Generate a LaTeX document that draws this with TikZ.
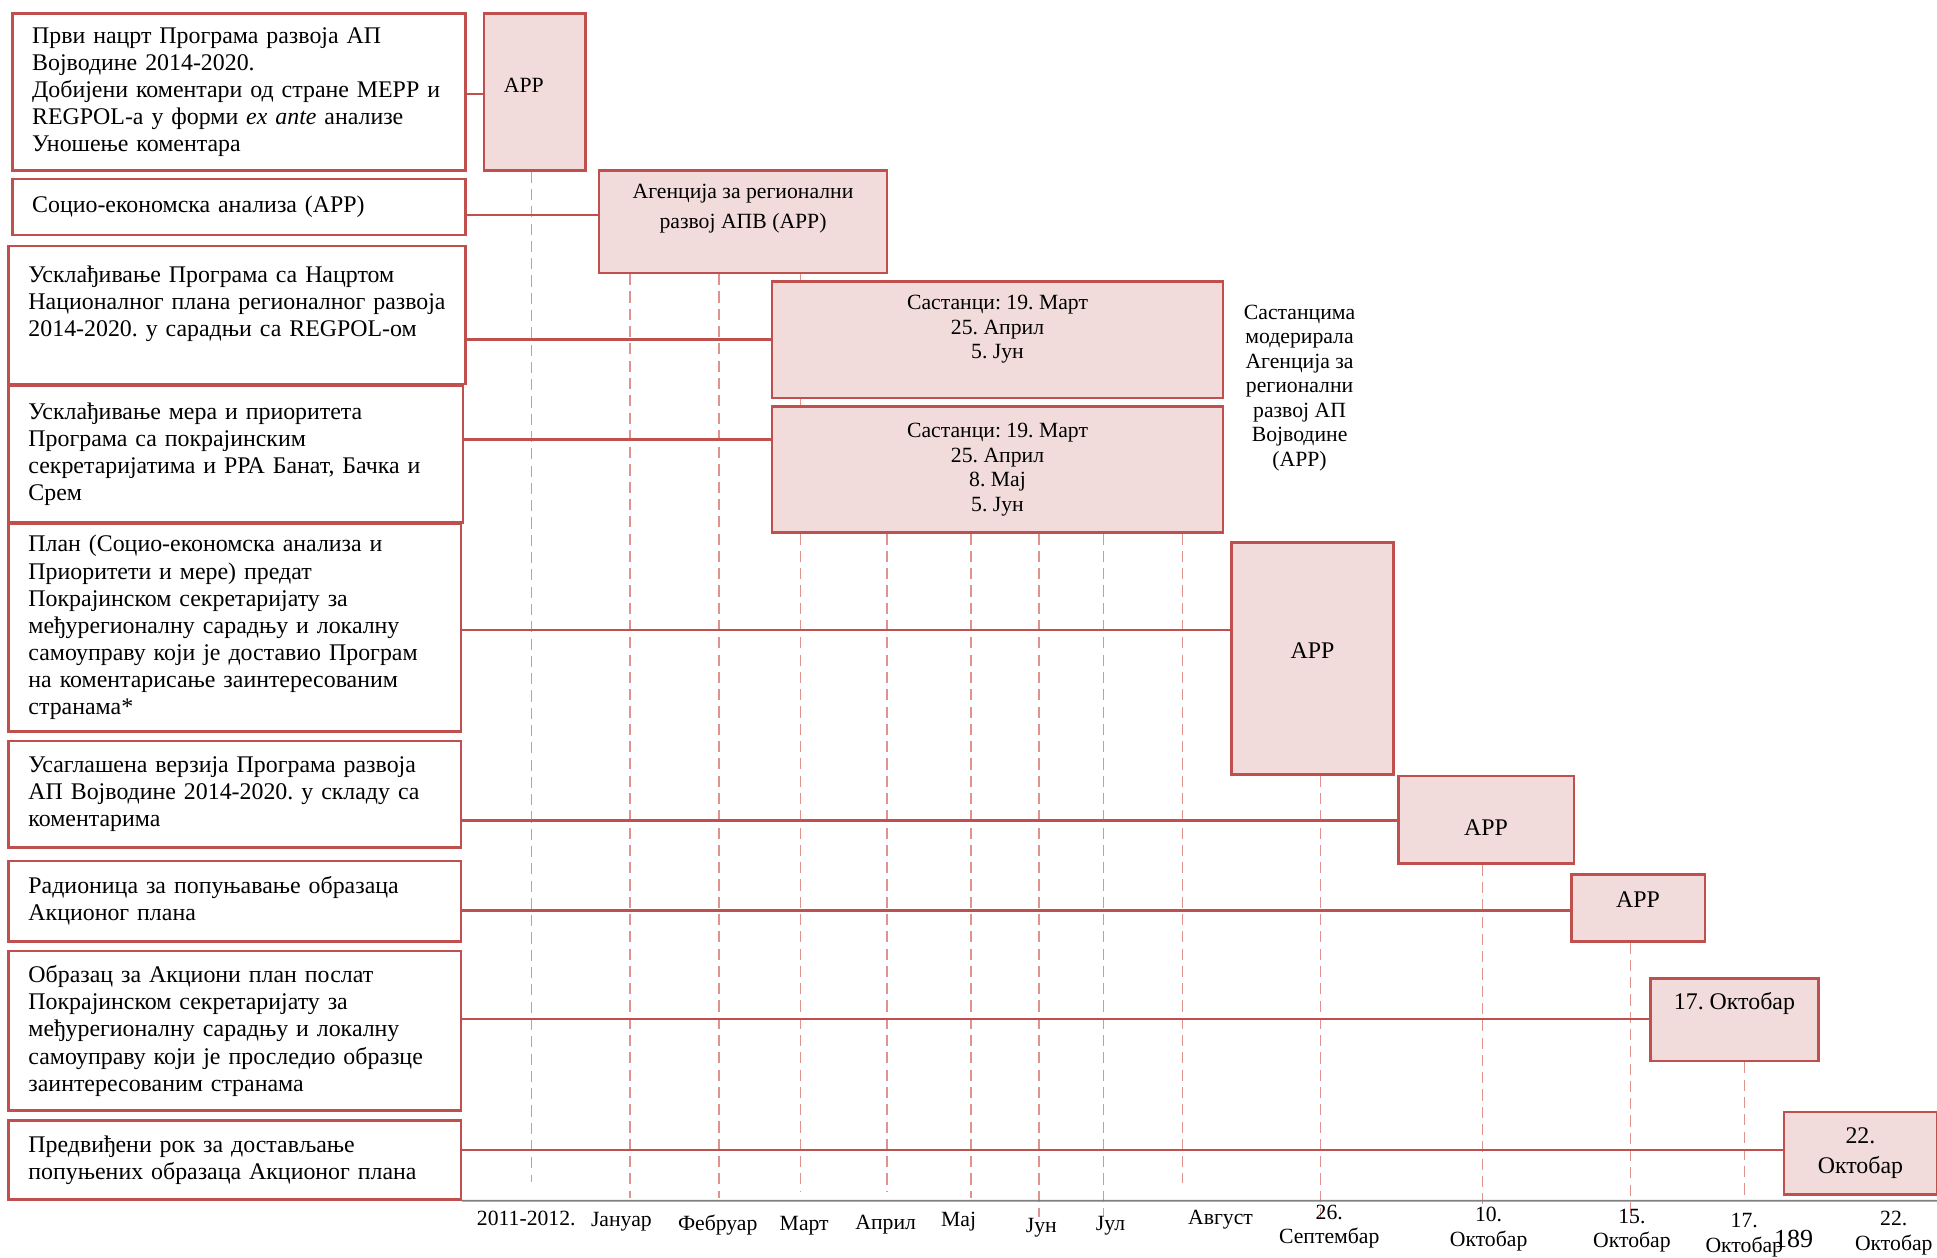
\documentclass[tikz,border=0pt]{standalone}
\usepackage{fontspec}
\setmainfont{Liberation Serif}
\usetikzlibrary{backgrounds}
\definecolor{boxred}{HTML}{C0504D}
\definecolor{boxfill}{HTML}{F2DCDB}
\definecolor{guidered}{HTML}{E0928F}
\frenchspacing
\begin{document}
\begin{tikzpicture}[x=0.02cm, y=-0.02cm,
  stage/.style={draw=boxred, line width=1.1pt, align=left, inner xsep=0.32cm, inner ysep=0pt, font=\fontsize{11}{12.5}\selectfont},
  actor/.style={draw=boxred, fill=boxfill, line width=1.1pt, align=center, inner sep=0pt, font=\fontsize{10}{11.3}\selectfont},
  tag/.style={align=center, inner sep=0pt, font=\fontsize{10}{11.3}\selectfont},
  bigtag/.style={align=center, inner sep=0pt, font=\fontsize{11}{13.6}\selectfont},
  link/.style={boxred, line width=1.2pt},
  guide/.style={guidered, line width=0.6pt, dash pattern=on 0.18cm off 0.1cm},
  month/.style={align=center, inner sep=0pt, font=\fontsize{10}{11.3}\selectfont}]
\useasboundingbox (0,0) rectangle (1568,1018);
\node[stage, text width=6.7cm, minimum height=2.54cm] (first) at (193.5,74.5) {Први нацрт Програма развоја АП\\ Војводине 2014-2020.\\ Добијени коментари од стране МЕРР и\\ REGPOL-а у форми \textit{ex ante} анализе\\ Уношење коментара};
\node[stage, text width=6.7cm, minimum height=0.9cm] (socio) at (193.5,167.5) {Социо-економска анализа (АРР)};
\node[stage, text width=6.76cm, minimum height=2.24cm] (harmon) at (192,255) {Усклађивање Програма са Нацртом\\ Националног плана регионалног развоја\\ 2014-2020. у сарадњи са REGPOL-ом\\ \mbox{}};
\node[stage, text width=6.72cm, minimum height=2.22cm] (measures) at (191,367.5) {Усклађивање мера и приоритета\\ Програма са покрајинским\\ секретаријатима и РРА Банат, Бачка и\\ Срем};
\node[stage, text width=6.68cm, minimum height=3.36cm] (plan) at (190,508) {План (Социо-економска анализа и\\ Приоритети и мере) предат\\ Покрајинском секретаријату за\\ међурегионалну сарадњу и локалну\\ самоуправу који је доставио Програм\\ на коментарисање заинтересованим\\ странама*};
\node[stage, text width=6.68cm, minimum height=1.72cm] (agreed) at (190,643) {Усаглашена верзија Програма развоја\\ АП Војводине 2014-2020. у складу са\\ коментарима};
\node[stage, text width=6.68cm, minimum height=1.3cm] (workshop) at (190,729.5) {Радионица за попуњавање образаца\\ Акционог плана};
\node[stage, text width=6.68cm, minimum height=2.58cm] (template) at (190,834.5) {Образац за Акциони план послат\\ Покрајинском секретаријату за\\ међурегионалну сарадњу и локалну\\ самоуправу који је проследио образце\\ заинтересованим странама};
\node[stage, text width=6.68cm, minimum height=1.28cm] (deadline) at (190,939) {Предвиђени рок за достављање\\ попуњених образаца Акционог плана};
\node[actor, minimum width=1.64cm, minimum height=2.54cm, label={[tag, xshift=-0.18cm, yshift=0.11cm]center:АРР}] (app) at (433,74.5) {};
\node[actor, minimum width=4.66cm, minimum height=1.66cm, label={[tag, font=\fontsize{10}{13.6}\selectfont, yshift=0.21cm]center:Агенција за регионални\\ развој АПВ (АРР)}] (agency) at (601.5,179.5) {};
\node[actor, minimum width=7.3cm, minimum height=1.88cm, label={[tag, yshift=0.17cm]center:Састанци: 19. Март\\ 25. Април\\ 5. Јун}] (meetA) at (807.5,275) {};
\node[actor, minimum width=7.3cm, minimum height=2.04cm] (meetB) at (807.5,380) {Састанци: 19. Март\\ 25. Април\\ 8. Мај\\ 5. Јун};
\node[tag] (moderated) at (1052,314) {Састанцима\\ модерирала\\ Агенција за\\ регионални\\ развој АП\\ Војводине\\ (АРР)};
\node[actor, minimum width=2.62cm, minimum height=3.76cm, label={[bigtag, yshift=0.12cm]center:АРР}] (appPlan) at (1062.5,533) {};
\node[actor, minimum width=2.84cm, minimum height=1.42cm, label={[bigtag, yshift=-0.13cm]center:АРР}] (appAgreed) at (1203,663.5) {};
\node[actor, minimum width=2.16cm, minimum height=1.08cm, label={[bigtag, yshift=0.14cm]center:АРР}] (appWorkshop) at (1326,735) {};
\node[actor, minimum width=2.72cm, minimum height=1.34cm, label={[bigtag, yshift=0.27cm]center:17. Октобар}] (sentDate) at (1404,825.5) {};
\node[actor, font=\fontsize{11}{13.6}\selectfont, minimum width=2.48cm, minimum height=1.34cm] (dueDate) at (1506,933.5) {22.\\ Октобар};
\foreach \a/\b/\y in {first/app/76, socio/agency/174, harmon/meetA/275, measures/meetB/356, plan/appPlan/510, agreed/appAgreed/664, workshop/appWorkshop/737, template/sentDate/825, deadline/dueDate/931}
  \draw[link] (\a.east |- 0,\y) -- (\b.west |- 0,\y);
\begin{scope}[on background layer]
\draw[guide] (app.south -| 430,0) -- (430,957);
\foreach \x/\y in {510/970, 582/970, 648/965}
  \draw[guide] (agency.south -| \x,0) -- (\x,\y);
\foreach \x/\y in {718/965, 786/970, 841/985, 893/985, 957/958}
  \draw[guide] (meetB.south -| \x,0) -- (\x,\y);
\draw[guide] (appPlan.south -| 1069,0) -- (1069,990);
\draw[guide] (appAgreed.south -| 1200,0) -- (1200,975);
\draw[guide] (appWorkshop.south -| 1320,0) -- (1320,990);
\draw[guide] (sentDate.south -| 1412,0) -- (1412,968);
\end{scope}
\draw[gray, line width=0.8pt] (deadline.south east) -- (1568,972);
\foreach \x/\y/\t [count=\i] in {426/986/{2011-2012.}, 503/989/Јануар, 581/992/Фебруар, 651/992/Март, 717/991/Април, 776/989/Мај, 843/994/Јун, 899/992/Јул, 988/987/Август, 1076/993/{26.\\ Септембар}, 1205/995/{10.\\ Октобар}, 1321/996/{15.\\ Октобар}, 1412/1000/{17.\\ Октобар}, 1533/998/{22.\\ Октобар}}
  \node[month] (m\i) at (\x,\y) {\t};
\node[font=\fontsize{12}{14}\selectfont, inner sep=0pt] (page) at (1452,1003) {189};
\end{tikzpicture}
\end{document}
